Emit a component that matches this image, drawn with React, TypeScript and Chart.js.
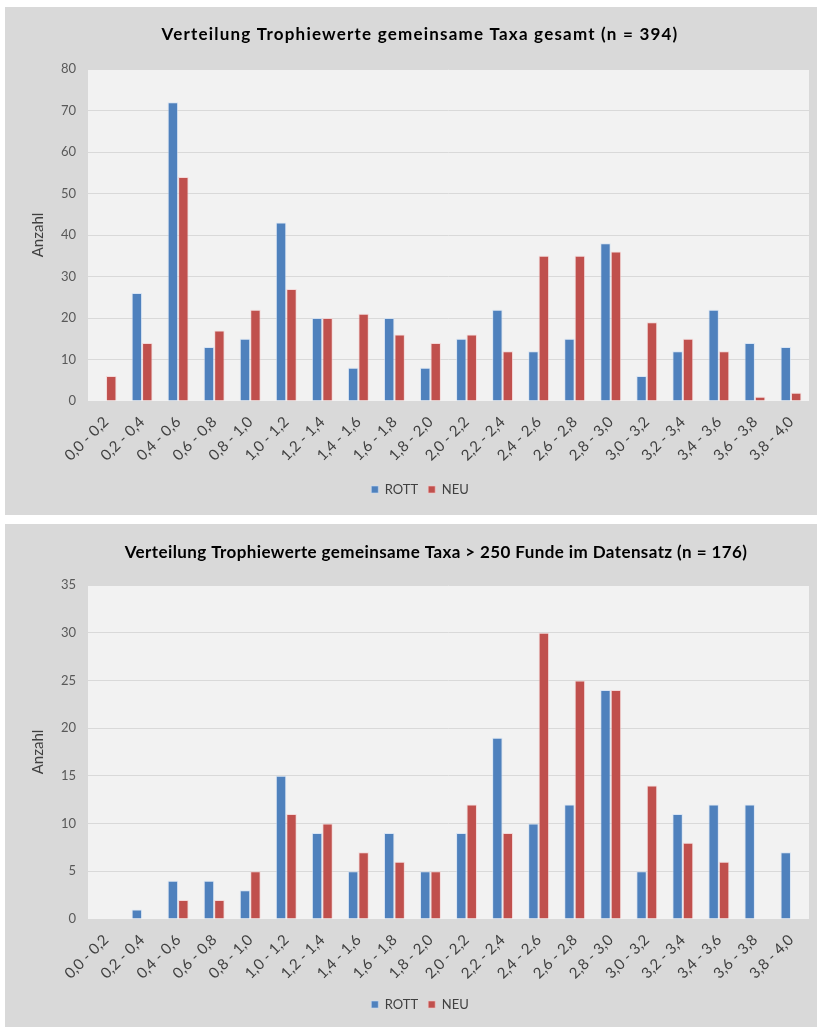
import { useEffect, useRef } from "react";
import { Chart, registerables } from "chart.js";

Chart.register(...registerables);

const categories = [
  "0,0 - 0,2", "0,2 - 0,4", "0,4 - 0,6", "0,6 - 0,8", "0,8 - 1,0",
  "1,0 - 1,2", "1,2 - 1,4", "1,4 - 1,6", "1,6 - 1,8", "1,8 - 2,0",
  "2,0 - 2,2", "2,2 - 2,4", "2,4 - 2,6", "2,6 - 2,8", "2,8 - 3,0",
  "3,0 - 3,2", "3,2 - 3,4", "3,4 - 3,6", "3,6 - 3,8", "3,8 - 4,0",
];

const title1 = "Verteilung Trophiewerte gemeinsame Taxa gesamt (n = 394)";
const rott1 = [0, 26, 72, 13, 15, 43, 20, 8, 20, 8, 15, 22, 12, 15, 38, 6, 12, 22, 14, 13];
const neu1 = [6, 14, 54, 17, 22, 27, 20, 21, 16, 14, 16, 12, 35, 35, 36, 19, 15, 12, 1, 2];

const title2 = "Verteilung Trophiewerte gemeinsame Taxa > 250 Funde im Datensatz (n = 176)";
const rott2 = [0, 1, 4, 4, 3, 15, 9, 5, 9, 5, 9, 19, 10, 12, 24, 5, 11, 12, 12, 7];
const neu2 = [0, 0, 2, 2, 5, 11, 10, 7, 6, 5, 12, 9, 30, 25, 24, 14, 8, 6, 0, 0];

const seriesNames = ["ROTT", "NEU"];
const yMax1 = 80;
const yStep1 = 10;
const yMax2 = 35;
const yStep2 = 5;

const BLUE = "#4f81bd";
const RED = "#c0504d";
const TEXT = "#595959";
const FONT = "Lato, 'Open Sans', sans-serif";

const plotBgPlugin = {
  id: "plotBg",
  beforeDraw(chart: any) {
    const { ctx, chartArea } = chart;
    ctx.save();
    ctx.fillStyle = "#f2f2f2";
    ctx.fillRect(chartArea.left, chartArea.top, chartArea.right - chartArea.left, chartArea.bottom - chartArea.top);
    ctx.restore();
  },
};

const titlePlugin = {
  id: "panelTitle",
  afterDraw(chart: any, _args: any, opts: any) {
    const ctx = chart.ctx;
    ctx.save();
    ctx.font = `bold 17px ${FONT}`;
    (ctx as any).letterSpacing = `${opts.spacing}px`;
    ctx.fillStyle = "#000000";
    ctx.textAlign = "center";
    ctx.textBaseline = "middle";
    ctx.fillText(opts.text, opts.x, opts.y);
    ctx.restore();
  },
};

type PanelProps = {
  title: string;
  rott: number[];
  neu: number[];
  max: number;
  step: number;
  width: number;
  height: number;
  left: number;
  top: number;
  titleX: number;
  titleY: number;
  spacing: number;
  padTop: number;
  xAxisHeight: number;
  padBottom: number;
};

function Panel(p: PanelProps) {
  const ref = useRef<HTMLCanvasElement | null>(null);
  useEffect(() => {
    if (!ref.current) return;
    const chart = new Chart(ref.current, {
      type: "bar",
      data: {
        labels: categories,
        datasets: [
          {
            label: seriesNames[0],
            data: p.rott,
            backgroundColor: BLUE,
            borderColor: "rgba(200,220,245,0.6)",
            borderWidth: 1,
            categoryPercentage: 0.58,
            barPercentage: 1,
          },
          {
            label: seriesNames[1],
            data: p.neu,
            backgroundColor: RED,
            borderColor: "rgba(245,200,200,0.6)",
            borderWidth: 1,
            categoryPercentage: 0.58,
            barPercentage: 1,
          },
        ],
      },
      options: {
        responsive: false,
        animation: false,
        layout: { padding: { left: 26, right: 8, top: p.padTop, bottom: p.padBottom } },
        scales: {
          x: {
            grid: { display: false, drawTicks: false },
            border: { display: false },
            ticks: {
              autoSkip: false,
              minRotation: 45,
              maxRotation: 45,
              color: "#404040",
              font: { family: FONT, size: 15 },
              padding: 12,
            },
            afterFit(scale: any) {
              scale.height = p.xAxisHeight;
            },
          },
          y: {
            min: 0,
            max: p.max,
            ticks: {
              stepSize: p.step,
              color: TEXT,
              font: { family: FONT, size: 13 },
              padding: 12,
            },
            grid: { color: "#d9d9d9", lineWidth: 1, drawTicks: false },
            border: { display: false },
            title: {
              display: true,
              text: "Anzahl",
              color: "#404040",
              font: { family: FONT, size: 15 },
              padding: { top: -2, bottom: 0 },
            },
            afterFit(scale: any) {
              scale.width = 57;
            },
          },
        },
        plugins: {
          legend: {
            position: "bottom",
            labels: {
              boxWidth: 7,
              boxHeight: 7,
              color: "#404040",
              font: { family: FONT, size: 13 },
              padding: 10,
            },
          },
          tooltip: { enabled: false },
          panelTitle: { text: p.title, x: p.titleX, y: p.titleY, spacing: p.spacing },
        } as any,
      },
      plugins: [plotBgPlugin, titlePlugin],
    });
    return () => chart.destroy();
  }, []);
  return (
    <div
      style={{
        position: "absolute",
        left: p.left,
        top: p.top,
        width: p.width,
        height: p.height,
        background: "#d9d9d9",
      }}
    >
      <canvas ref={ref} width={p.width} height={p.height} style={{ display: "block" }} />
    </div>
  );
}

export default function App() {
  return (
    <div style={{ position: "absolute", left: 0, top: 0, width: 818, height: 1030, background: "#ffffff" }}>
      <Panel
        title={title1}
        rott={rott1}
        neu={neu1}
        max={yMax1}
        step={yStep1}
        left={5}
        top={7}
        width={812}
        height={508}
        titleX={415}
        titleY={28}
        spacing={1.2}
        padTop={62}
        xAxisHeight={72}
        padBottom={9}
      />
      <Panel
        title={title2}
        rott={rott2}
        neu={neu2}
        max={yMax2}
        step={yStep2}
        left={5}
        top={524}
        width={812}
        height={503}
        titleX={431}
        titleY={29}
        spacing={0.4}
        padTop={61}
        xAxisHeight={69}
        padBottom={6}
      />
    </div>
  );
}
